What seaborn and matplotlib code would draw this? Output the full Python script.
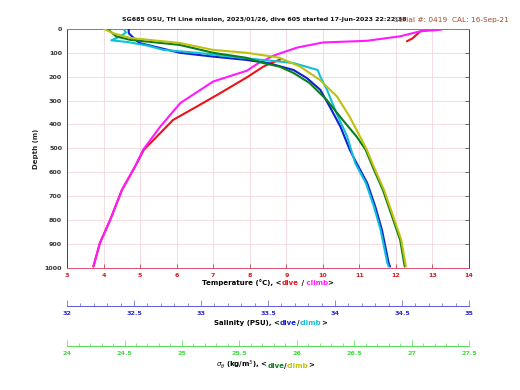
import numpy as np
import pandas as pd
import seaborn as sns
import matplotlib.pyplot as plt
from matplotlib.ticker import MultipleLocator, FormatStrFormatter
from matplotlib.offsetbox import TextArea, HPacker, AnchoredOffsetbox

sns.set_theme(style="white")
plt.rcParams['font.family'] = ['DejaVu Sans']

# temperature, dive (red, two pieces - few samples in the thermocline) and climb (magenta)
depth_t_dive = [0, 10, 40, 52, 128, 142, 158, 200, 268, 325, 381, 450, 506, 576, 674, 799, 895, 994]
temp_dive = [13.1, 12.67, 12.45, 12.3, 8.84, 8.6, 8.37, 7.95, 7.2, 6.55, 5.9, 5.46, 5.1, 4.86, 4.5, 4.18, 3.9, 3.72]
seg_t_dive = [0, 0, 0, 0, 1, 1, 1, 1, 1, 1, 1, 1, 1, 1, 1, 1, 1, 1]
depth_t_climb = [0, 4, 10, 31, 50, 57, 78, 112, 147, 175, 220, 310, 409, 506, 576, 674, 799, 895, 994]
temp_climb = [13.3, 13.2, 12.67, 12.12, 11.2, 10.0, 9.3, 8.65, 8.2, 7.92, 7.0, 6.1, 5.55, 5.08, 4.86, 4.5, 4.18, 3.9, 3.72]

# salinity, dive (blue) and climb (cyan)
depth_s_dive = [0, 18, 40, 59, 100, 116, 130, 143, 172, 206, 255, 325, 409, 506, 561, 645, 743, 841, 979, 994]
sal_dive = [32.46, 32.46, 32.5, 32.54, 32.84, 33.09, 33.34, 33.5, 33.69, 33.79, 33.89, 33.96, 34.04, 34.11, 34.16, 34.24, 34.30, 34.35, 34.40, 34.41]
depth_s_climb = [0, 15, 30, 48, 55, 70, 88, 100, 116, 130, 137, 143, 172, 200, 255, 352, 450, 561, 645, 743, 841, 979, 994]
sal_climb = [32.42, 32.44, 32.40, 32.33, 32.45, 32.6, 32.72, 32.97, 33.22, 33.46, 33.59, 33.69, 33.87, 33.89, 33.94, 34.01, 34.09, 34.15, 34.23, 34.29, 34.34, 34.39, 34.40]

# sigma-theta, dive (green) and climb (olive)
depth_g_dive = [0, 32, 46, 67, 100, 121, 143, 158, 184, 226, 297, 381, 450, 506, 576, 674, 785, 883, 994]
sig_dive = [24.35, 24.43, 24.55, 24.98, 25.27, 25.56, 25.71, 25.85, 25.97, 26.11, 26.26, 26.40, 26.52, 26.60, 26.66, 26.75, 26.83, 26.90, 26.94]
depth_g_climb = [0, 18, 38, 59, 88, 100, 116, 121, 158, 213, 283, 367, 450, 506, 576, 674, 785, 883, 994]
sig_climb = [24.32, 24.40, 24.55, 24.98, 25.27, 25.56, 25.79, 25.85, 26.03, 26.2, 26.35, 26.46, 26.55, 26.61, 26.67, 26.76, 26.84, 26.91, 26.95]

C_TD, C_TC = "#e8141a", "#ff1aff"
C_SD, C_SC = "#1020d0", "#10c0d8"
C_GD, C_GC = "#0a7f1a", "#c0c010"
fs = 4.6

fig = plt.figure(figsize=(5.2, 3.9), dpi=100)
ax = fig.add_axes([0.129, 0.313, 0.773, 0.613])

red = pd.DataFrame({"temp": temp_dive, "depth": depth_t_dive, "seg": seg_t_dive})
sns.lineplot(data=red, x="temp", y="depth", units="seg", sort=False, estimator=None, color=C_TD, lw=1.5, ax=ax)
sns.lineplot(x=temp_climb, y=depth_t_climb, sort=False, estimator=None, color=C_TC, lw=1.5, ax=ax)
ax.set_xlim(3, 14)
ax.set_ylim(1000, 0)
ax.xaxis.set_major_locator(MultipleLocator(1))
ax.yaxis.set_major_locator(MultipleLocator(100))
ax.grid(True, color="#f2d6dc", lw=0.6)
ax.tick_params(axis='x', colors="#d02020", labelsize=fs, direction='in', top=True, length=3, width=0.5)
ax.tick_params(axis='y', labelcolor="#333333", labelsize=fs, direction='in', right=True, length=3, width=0.5, color="#333333")
for lab in ax.get_xticklabels() + ax.get_yticklabels():
    lab.set_fontweight('bold')
for s in ['top', 'bottom']:
    ax.spines[s].set_color("#e05070")
for s in ['left', 'right']:
    ax.spines[s].set_color("#444444")
for s in ax.spines.values():
    s.set_linewidth(0.7)
ax.set_xlabel("")
ax.set_ylabel("Depth (m)", fontsize=fs + 0.4, fontweight='bold', labelpad=4)


def extra_axis(offset, lim, col, spine_col, dive, climb):
    t = ax.twiny()
    t.set_xlim(*lim)
    t.xaxis.set_ticks_position('bottom')
    t.spines['bottom'].set_position(('outward', offset))
    for s in ['top', 'left', 'right']:
        t.spines[s].set_visible(False)
    t.spines['bottom'].set_color(spine_col)
    t.spines['bottom'].set_linewidth(0.7)
    t.xaxis.set_major_locator(MultipleLocator(0.5))
    t.xaxis.set_minor_locator(MultipleLocator(0.1))
    t.xaxis.set_major_formatter(FormatStrFormatter('%g'))
    t.tick_params(axis='x', which='major', colors=spine_col, labelcolor=col, labelsize=fs, direction='in', length=4, width=0.5)
    t.tick_params(axis='x', which='minor', colors=spine_col, direction='in', length=2, width=0.5)
    for lab in t.get_xticklabels():
        lab.set_fontweight('bold')
    for xs, ys, c in [dive, climb]:
        sns.lineplot(x=xs, y=ys, sort=False, estimator=None, color=c, lw=1.5, ax=t)
    t.set_ylim(1000, 0)
    t.set_xlabel("")
    return t


extra_axis(27.4, (32, 35), "#2a2ad0", "#5a5ae0",
           (sal_dive, depth_s_dive, C_SD), (sal_climb, depth_s_climb, C_SC))
extra_axis(56.0, (24, 27.5), "#40dd40", "#50e050",
           (sig_dive, depth_g_dive, C_GD), (sig_climb, depth_g_climb, C_GC))


def colored_label(x, y, parts):
    boxes = [TextArea(t, textprops=dict(color=c, fontsize=fs + 0.4, fontweight='bold')) for t, c in parts]
    pack = HPacker(children=boxes, align='baseline', pad=0, sep=0)
    anc = AnchoredOffsetbox(loc='center', child=pack, pad=0, borderpad=0, frameon=False,
                            bbox_to_anchor=(x, y), bbox_transform=fig.transFigure)
    fig.add_artist(anc)


colored_label(0.515, 1 - 283 / 390, [("Temperature (°C), <", "black"), ("dive", C_TD), (" /", "black"),
                                     (" climb", C_TC), (">", "black")])
colored_label(0.52, 1 - 323 / 390, [("Salinity (PSU), <", "black"), ("dive", C_SD), ("/", "black"),
                                    ("climb", C_SC), (">", "black")])
colored_label(0.51, 1 - 365 / 390, [(r"$\sigma_\theta$ (kg/m$^3$), <", "black"), ("dive", C_GD), ("/", "black"),
                                    ("climb", C_GC), (">", "black")])

fig.text(0.508, 1 - 20 / 390, "SG685 OSU, TH Line mission, 2023/01/26, dive 605 started 17-Jun-2023 22:22:38",
         ha='center', va='center', fontsize=4.5, fontweight='bold', color="#111111")
fig.text(0.758, 1 - 20 / 390, "Serial #: 0419  CAL: 16-Sep-21", ha='left', va='center',
         fontsize=5.3, color="#a04a2a")

fig.savefig("out.png", dpi=100)
